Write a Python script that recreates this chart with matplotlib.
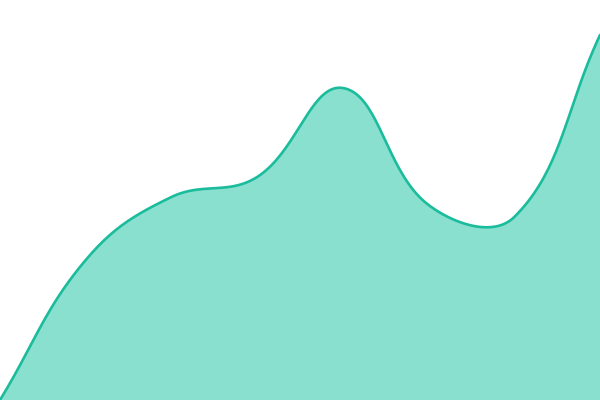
import numpy as np
import matplotlib
matplotlib.use('Agg')
import matplotlib.pyplot as plt

# values (8 evenly spaced points)
labels = ['1', '2', '3', '4', '5', '6', '7', '8']
values = [0, 140, 203, 223, 312, 195, 183, 365]

LINE = '#1abc9c'
FILL = '#8ae0cf'
TENSION = 0.4

fig = plt.figure(figsize=(6, 4), dpi=100)
ax = fig.add_axes([0, 0, 1, 1])
ax.set_xlim(0, len(values) - 1)
ax.set_ylim(0, 400)
ax.axis('off')

# cardinal spline (chart.js style) computed in display space
pts = ax.transData.transform(np.column_stack([np.arange(len(values)), values]))
curve = [pts[0]]
n = len(pts)
cps = []
for i in range(n):
    prev = pts[max(i - 1, 0)]
    cur = pts[i]
    nxt = pts[min(i + 1, n - 1)]
    d01 = np.hypot(*(cur - prev))
    d12 = np.hypot(*(nxt - cur))
    s01 = d01 / (d01 + d12) if d01 + d12 else 0
    s12 = d12 / (d01 + d12) if d01 + d12 else 0
    fa = TENSION * s01
    fb = TENSION * s12
    cps.append((cur - fa * (nxt - prev), cur + fb * (nxt - prev)))

t = np.linspace(0, 1, 40)[:, None]
for i in range(n - 1):
    p0, p3 = pts[i], pts[i + 1]
    p1, p2 = cps[i][1], cps[i + 1][0]
    seg = ((1 - t) ** 3) * p0 + 3 * ((1 - t) ** 2) * t * p1 + 3 * (1 - t) * t ** 2 * p2 + t ** 3 * p3
    curve.extend(seg[1:])
curve = np.array(curve)
data = ax.transData.inverted().transform(curve)

ax.fill_between(data[:, 0], data[:, 1], 0, color=FILL, linewidth=0)
ax.plot(data[:, 0], data[:, 1], color=LINE, linewidth=1.9, solid_capstyle='round')

plt.savefig('out.png', dpi=100)
